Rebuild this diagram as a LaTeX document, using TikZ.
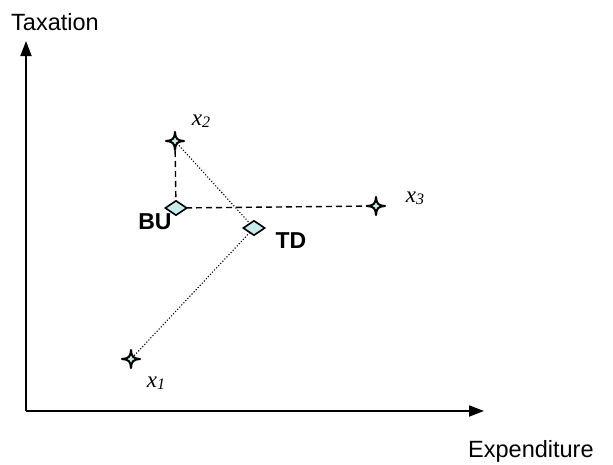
\documentclass[tikz,border=0pt]{standalone}
\usepackage{fontspec}
\setmainfont{Liberation Sans}
\newfontfamily\serifx{Liberation Serif}
\usetikzlibrary{shapes.geometric,arrows.meta}
\definecolor{lightaqua}{RGB}{200,236,236}
\begin{document}
\begin{tikzpicture}[x=1pt,y=-1pt,
  axis/.style={line width=1.8pt,-{Triangle[length=15pt,width=11pt]}},
  starpt/.pic={\filldraw[draw=black, fill=lightaqua, line width=2pt, line join=round]
     (0,-9) .. controls (0.5,-2.2) and (2.2,-0.5) .. (9,0)
     .. controls (2.2,0.5) and (0.5,2.2) .. (0,9)
     .. controls (-0.5,2.2) and (-2.2,0.5) .. (-9,0)
     .. controls (-2.2,-0.5) and (-0.5,-2.2) .. cycle;},
  est/.style={diamond, minimum width=22pt, minimum height=15pt, inner sep=0pt,
    draw=black, line width=1.6pt, fill=lightaqua},
  dsh/.style={line width=1.4pt, dash pattern=on 6pt off 4pt},
  dot/.style={line width=1.1pt, dash pattern=on 1.1pt off 1.9pt},
  lab/.style={font=\fontsize{23.5}{26}\selectfont},
  blab/.style={font=\fontsize{23}{26}\selectfont\bfseries},
  xlab/.style={font=\serifx\itshape\fontsize{23}{24}\selectfont}]
\useasboundingbox (0,0) rectangle (613,464);
% axes
\coordinate (o) at (26,411);
\coordinate (ytip) at (26,41);
\coordinate (xtip) at (484,411);
\draw[axis] (o) -- (ytip);
\draw[axis] (o) -- (xtip);
\node[lab, anchor=west, inner sep=0pt] (tax) at (11,22) {Taxation};
\node[lab, anchor=west, inner sep=0pt] (exp) at (468,451) {Expenditure};
% point positions
\coordinate (x2) at (175,141);
\coordinate (x3) at (376,206);
\coordinate (x1) at (131,359);
\coordinate (bu) at (176,208);
\coordinate (td) at (254,228);
% connectors
\draw[dsh] (x2) -- (bu);
\draw[dsh] (bu) -- (x3);
\draw[dot] (x2) -- (td);
\draw[dot] (td) -- (x1);
% markers
\pic at (x2) {starpt};
\pic at (x3) {starpt};
\pic at (x1) {starpt};
\node[est] (bud) at (bu) {};
\node[est] (tdd) at (td) {};
% labels
\node[xlab] (l2) at (201,121) {x\raisebox{-2pt}{\fontsize{16}{16}\selectfont 2}};
\node[xlab] (l3) at (415,198) {x\raisebox{-2pt}{\fontsize{16}{16}\selectfont 3}};
\node[xlab] (l1) at (156,383) {x\raisebox{-2pt}{\fontsize{16}{16}\selectfont 1}};
\node[blab] (lbu) at (155,222) {BU};
\node[blab] (ltd) at (291,241) {TD};
\end{tikzpicture}
\end{document}
